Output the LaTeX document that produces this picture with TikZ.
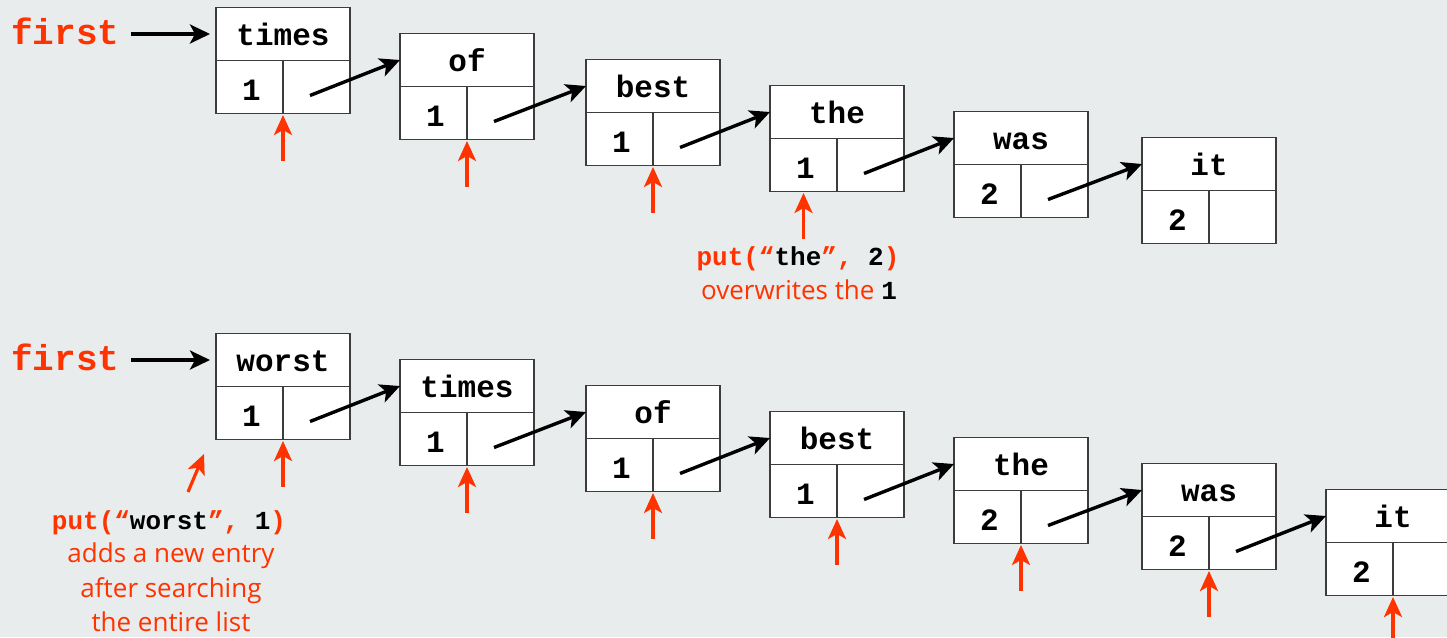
\documentclass[tikz,border=0pt]{standalone}
\usepackage{fontspec}
\usetikzlibrary{arrows.meta}
\setmainfont{Open Sans}
\newfontfamily\mono{Liberation Mono}
\newfontfamily\comic{Open Sans}
\definecolor{bg}{RGB}{232,236,237}
\definecolor{hot}{RGB}{255,51,0}
\definecolor{frame}{RGB}{60,60,60}
\tikzset{
  cell/.style={draw=frame, line width=1.4pt, fill=white, inner sep=0pt, outer sep=0pt,
    font=\mono\bfseries\fontsize{31}{31}\selectfont},
  keycell/.style={cell, minimum width=134pt, minimum height=53pt, text height=22pt, text depth=0pt},
  valcell/.style={cell, minimum width=67pt, minimum height=53pt, text height=26pt, text depth=0pt},
  ptrcell/.style={cell, minimum width=67pt, minimum height=53pt},
  ptr/.style={line width=3.4pt, black, -{Stealth[length=20pt,width=19pt,inset=5pt]}},
  hitarrow/.style={line width=3.2pt, hot, -{Stealth[length=20pt,width=18pt,inset=5pt]}},
  firstlbl/.style={text=hot, inner sep=0pt, anchor=base west, font=\mono\bfseries\fontsize{36}{36}\selectfont},
  codelbl/.style={inner sep=0pt, anchor=base, font=\mono\bfseries\fontsize{26}{26}\selectfont},
  notelbl/.style={inner sep=0pt, anchor=base, text=hot, font=\comic\fontsize{26}{26}\selectfont},
}
\newcommand\listentry[5]{%
  \node[keycell] (#1k) at (#2+67,#3+26.5) {#4};
  \node[valcell] (#1v) at (#2+33.5,#3+79.5) {\hspace*{4pt}#5};
  \node[ptrcell] (#1p) at (#2+100.5,#3+79.5) {};
}
\newcommand\link[2]{\draw[ptr] ([shift={(-6.5,8.5)}]#1p.center) -- (#2k.west);}
\newcommand\hit[1]{\draw[hitarrow] ([yshift=-47pt]#1v.south east) -- ([yshift=-1.5pt]#1v.south east);}
\begin{document}
\begin{tikzpicture}[x=1pt,y=-1pt]
\useasboundingbox (0,0) rectangle (1447,637);
\fill[bg] (0,0) rectangle (1447,637);
\clip (0,0) rectangle (1447,637);
% top list
\listentry{A1}{216}{7.5}{times}{1}
\listentry{A2}{400}{33.5}{of}{1}
\listentry{A3}{586}{59.5}{best}{1}
\listentry{A4}{770}{85.5}{the}{1}
\listentry{A5}{954}{111.5}{was}{2}
\listentry{A6}{1142}{137.5}{it}{2}
\node[firstlbl] (firstA) at (11,44.3) {first};
\draw[ptr, shorten <=12pt, shorten >=6pt] (firstA.east |- A1k.west) -- (A1k.west);
\link{A1}{A2}\link{A2}{A3}\link{A3}{A4}\link{A4}{A5}\link{A5}{A6}
\hit{A1}\hit{A2}\hit{A3}
\draw[hitarrow] ([yshift=-47pt]A4v.south) -- ([yshift=-1.5pt]A4v.south);
\node[codelbl] (noteA1) at (798,265) {\textcolor{hot}{put(“}the\textcolor{hot}{”, }2\textcolor{hot}{)}};
\node[notelbl] (noteA2) at (799,299) {overwrites the {\mono\bfseries\color{black}1}};
% bottom list
\listentry{B1}{216}{333.5}{worst}{1}
\listentry{B2}{400}{359.5}{times}{1}
\listentry{B3}{586}{385.5}{of}{1}
\listentry{B4}{770}{411.5}{best}{1}
\listentry{B5}{954}{437.5}{the}{2}
\listentry{B6}{1142}{463.5}{was}{2}
\listentry{B7}{1326}{489.5}{it}{2}
\node[firstlbl] (firstB) at (11,370.3) {first};
\draw[ptr, shorten <=12pt, shorten >=6pt] (firstB.east |- B1k.west) -- (B1k.west);
\link{B1}{B2}\link{B2}{B3}\link{B3}{B4}\link{B4}{B5}\link{B5}{B6}\link{B6}{B7}
\hit{B1}\hit{B2}\hit{B3}\hit{B4}\hit{B5}\hit{B6}\hit{B7}
\coordinate (slantTail) at (188,492);
\coordinate (slantTip) at (204,454);
\draw[hitarrow] (slantTail) -- (slantTip);
\node[codelbl] (noteB1) at (169,529) {\textcolor{hot}{put(“}worst\textcolor{hot}{”, }1\textcolor{hot}{)}};
\node[notelbl] (noteB2) at (171,562) {adds a new entry};
\node[notelbl] (noteB3) at (171,597) {after searching};
\node[notelbl] (noteB4) at (171,631) {the entire list};
\end{tikzpicture}
\end{document}
